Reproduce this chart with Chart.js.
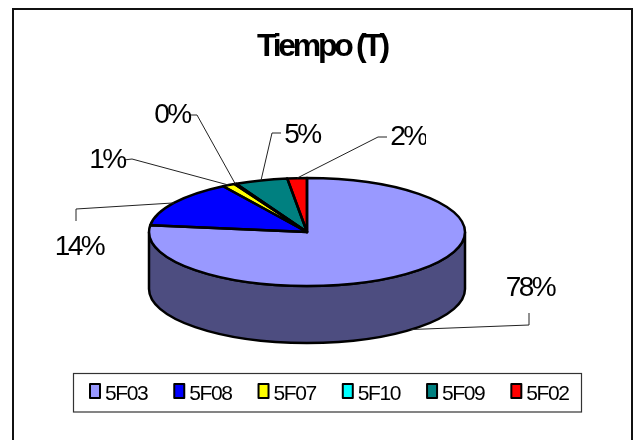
<!DOCTYPE html>
<html>
<head>
<meta charset="utf-8">
<style>html,body{margin:0;padding:0;background:#fff}canvas{display:block}</style>
<script src="https://cdn.jsdelivr.net/npm/chart.js@4"></script>
</head>
<body>
<canvas id="c" width="639" height="440"></canvas>
<script>
const chartTitle = 'Tiempo (T)';
const categories = ['5F03','5F08','5F07','5F10','5F09','5F02'];
const shares = [77.0, 14.1, 1.3, 0.2, 5.4, 2.0];
const shareLabels = ['78%','14%','1%','0%','5%','2%'];
const colors = ['#9999FF','#0000FF','#FFFF00','#00FFFF','#008080','#FF0000'];
const wallColor = '#4D4D80';

const FONT = 'Liberation Sans, Arial, sans-serif';
const SQUASH = 54/158, DEPTH = 57;
const LEGEND_SPACING = '-1.4px', TITLE_SPACING = '-3.3px';
const LEGEND_PAD = 26;
const leaders = [
  {wall:true, via:[[529,325],[529,313]], text:[530,288]},
  {via:[[76,209],[76,221]], text:[79,247]},
  {via:[[132,159],[124,160]], text:[107,160]},
  {via:[[197,115],[190,115]], text:[172,115]},
  {via:[[272,133],[281,133]], text:[302,135]},
  {via:[[378,137],[387,137]], text:[408,137], clipRight:426}
];

const pie3d = {
  id:'pie3d',
  beforeLayout(chart){ chart.ctx.letterSpacing=LEGEND_SPACING; },
  afterLayout(chart){
    const t=chart.titleBlock, l=chart.legend;
    const th=t.bottom-t.top; t.left=23; t.right=621; t.top=28; t.bottom=28+th;
    const lh=l.bottom-l.top; l.left=63; l.right=639; l.top=386-lh/2; l.bottom=386+lh/2;
    if(!t._spaced){
      t._spaced=true;
      const d=t.draw;
      t.draw=function(){ const c=chart.ctx; c.letterSpacing=TITLE_SPACING; d.apply(t,arguments); c.letterSpacing=LEGEND_SPACING; };
    }
  },
  beforeDraw(chart){
    const c=chart.ctx; c.save();
    c.fillStyle='#fff'; c.fillRect(0,0,639,440);
    c.strokeStyle='#111'; c.lineWidth=2;
    c.strokeRect(13,9,619,450);
    c.fillStyle='#fff'; c.strokeStyle='#333'; c.lineWidth=1.2;
    c.fillRect(73.5,373.5,508,38.5); c.strokeRect(73.5,373.5,508,38.5);
    c.restore();
    c.letterSpacing=LEGEND_SPACING;
  },
  beforeDatasetsDraw(chart){
    const c=chart.ctx, a=chart.getDatasetMeta(0).data[0];
    const rx=a.outerRadius, ry=rx*SQUASH;
    c.save();
    c.beginPath();
    c.ellipse(a.x,a.y,rx,ry,0,Math.PI,0,true);
    c.lineTo(a.x+rx,a.y+DEPTH);
    c.ellipse(a.x,a.y+DEPTH,rx,ry,0,0,Math.PI,false);
    c.closePath();
    c.fillStyle=wallColor; c.fill();
    c.lineWidth=2.5; c.strokeStyle='#000'; c.stroke();
    c.restore();
    c.save();
    c.translate(a.x,a.y); c.scale(1,SQUASH); c.translate(-a.x,-a.y);
  },
  afterDatasetsDraw(chart){
    const c=chart.ctx; c.restore();
    const els=chart.getDatasetMeta(0).data;
    c.save();
    c.lineWidth=2.5; c.strokeStyle='#000'; c.lineJoin='round';
    els.forEach(a=>{
      c.beginPath();
      c.moveTo(a.x,a.y);
      c.ellipse(a.x,a.y,a.outerRadius,a.outerRadius*SQUASH,0,a.startAngle,a.endAngle);
      c.closePath(); c.stroke();
    });
    c.lineWidth=1; c.strokeStyle='#222';
    els.forEach((a,i)=>{
      const m=(a.startAngle+a.endAngle)/2, L=leaders[i];
      const sx=a.x+a.outerRadius*Math.cos(m), sy=a.y+a.outerRadius*SQUASH*Math.sin(m)+(L.wall?DEPTH:0);
      c.beginPath(); c.moveTo(sx,sy);
      L.via.forEach(p=>c.lineTo(p[0],p[1]));
      c.stroke();
    });
    c.fillStyle='#000'; c.font='28px '+FONT; c.textAlign='center'; c.textBaseline='middle';
    c.letterSpacing='-2.5px';
    els.forEach((a,i)=>{
      const L=leaders[i];
      c.save();
      if(L.clipRight){ c.beginPath(); c.rect(0,0,L.clipRight,440); c.clip(); }
      c.fillText(shareLabels[i],L.text[0],L.text[1]);
      c.restore();
    });
    c.restore();
  },
  afterDraw(chart){
    const c=chart.ctx, l=chart.legend;
    let x=l.left+LEGEND_PAD;
    c.save();
    c.lineWidth=2; c.strokeStyle='#000'; c.lineJoin='round';
    l.legendHitBoxes.forEach((h,i)=>{
      c.fillStyle=colors[i];
      c.fillRect(x+1,384,10,14); c.strokeRect(x+1,384,10,14);
      x+=h.width+LEGEND_PAD;
    });
    c.restore();
  }
};

new Chart(document.getElementById('c'),{
  type:'pie',
  data:{labels:categories,datasets:[{data:shares,backgroundColor:colors,borderWidth:0,radius:158,clip:false}]},
  plugins:[pie3d],
  options:{
    responsive:false,animation:false,
    layout:{padding:{left:8,right:33,top:48,bottom:5.4}},
    plugins:{
      tooltip:{enabled:false},
      title:{display:true,text:chartTitle,color:'#000',padding:0,font:{family:FONT,size:32,weight:'bold',lineHeight:1.2}},
      legend:{position:'bottom',align:'start',labels:{
        boxWidth:5.5,boxHeight:1,padding:LEGEND_PAD,color:'#000',font:{family:FONT,size:21},
        generateLabels(chart){
          return Chart.overrides.pie.plugins.legend.labels.generateLabels(chart)
            .map(l=>({...l,lineWidth:0,fillStyle:'transparent',strokeStyle:'transparent'}));
        }
      }}
    }
  }
});
</script>
</body>
</html>
